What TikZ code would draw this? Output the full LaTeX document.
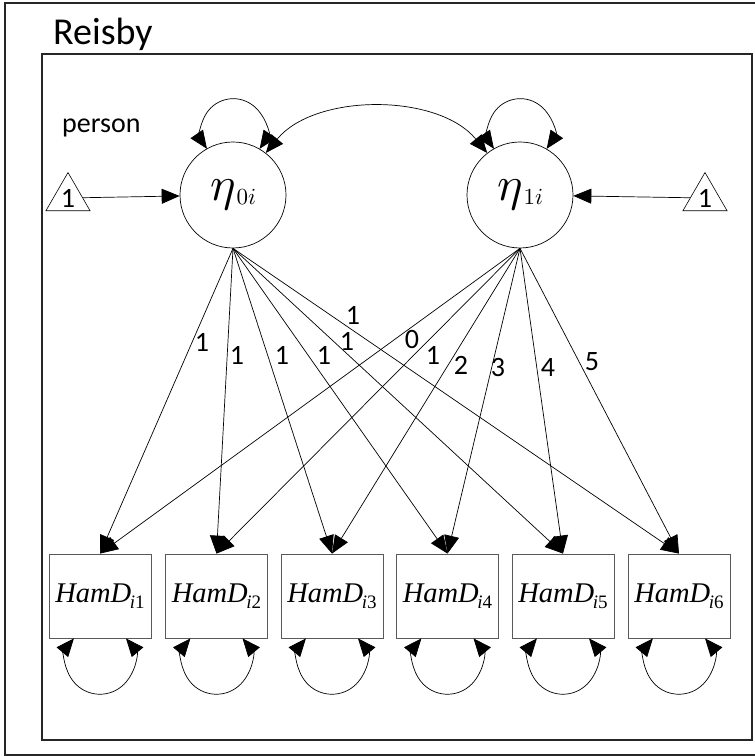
\documentclass[tikz,border=0pt]{standalone}
\usepackage{graphicx}
\usepackage[no-math]{fontspec}
\setmainfont{Liberation Serif}
\newfontfamily\calib{Carlito}
\usetikzlibrary{arrows.meta,shapes.geometric,calc}
\newcommand{\hamd}[1]{\fontsize{28.5}{28.5}\selectfont\textit{HamD}\kern-0.05em\raisebox{-6pt}{\fontsize{19}{19}\selectfont\textit{i}#1}}
\newcommand{\etasub}[1]{\scalebox{4.8}{$\eta$}\kern1pt\raisebox{-4pt}{\scalebox{2.3}{$#1i$}}}
\begin{document}
\begin{tikzpicture}[x=1pt,y=1pt,
  arr/.style={-{Triangle[length=18pt,width=15pt]}},
  darr/.style={{Triangle[length=18pt,width=15pt]}-{Triangle[length=18pt,width=15pt]}},
  latent/.style={circle,draw,line width=0.7pt,minimum size=106pt,inner sep=0pt},
  obs/.style={rectangle,draw=black!65,line width=0.8pt,minimum width=102pt,minimum height=84pt,inner sep=0pt},
  onebox/.style={regular polygon,regular polygon sides=3,draw,line width=0.6pt,minimum size=47.3pt,inner sep=0pt,font=\calib\fontsize{28}{28}\selectfont},
  lbl/.style={font=\calib\fontsize{28}{28}\selectfont,inner sep=0pt},
  framebox/.style={draw=black!85,line width=2pt},
  conn/.style={line width=0.7pt}
]
\clip (0,0) rectangle (755,756);
\draw[framebox] (5,1) rectangle (770,753);
\draw[framebox] (42,16) rectangle (752,702);
\node[anchor=base west,font=\calib\fontsize{38}{38}\selectfont,inner sep=0pt] (title) at (53,711) {Reisby};
\node[anchor=west,font=\calib\fontsize{28}{28}\selectfont,inner sep=0pt] (person) at (62,628) {person};

\node[latent] (e0) at (233,561) {\etasub{0}};
\node[latent] (e1) at (520,561) {\etasub{1}};

\node[onebox] (tL) at (68,558) {1};
\node[onebox] (tR) at (705,558) {1};
\draw[conn,arr] (tL) -- (e0);
\draw[conn,arr] (tR) -- (e1);

\foreach \i/\x in {1/100,2/216.5,3/332,4/447.5,5/563,6/679}
  \node[obs] (b\i) at (\x,160) {\hamd{\i}};

\foreach \i in {1,...,6} {
  \draw[conn,arr] (e0.south) -- (b\i.north);
  \draw[conn,arr] (e1.south) -- (b\i.north);
  \draw[conn,darr] ($(b\i.south)+(26,0)$) arc[start angle=40,end angle=-220,radius=34];
}

\draw[conn,darr] (e0.60) arc[start angle=-34.5,end angle=214.5,radius=32];
\draw[conn,darr] (e1.60) arc[start angle=-34.5,end angle=214.5,radius=32];
\draw[conn,darr] (e0.52) .. controls (315,663) and (438,663) .. (e1.128);

\node[lbl] (l01) at (202,414) {1};
\node[lbl] (l02) at (237,401) {1};
\node[lbl] (l03) at (282,401) {1};
\node[lbl] (l04) at (324,401) {1};
\node[lbl] (l05) at (347,415) {1};
\node[lbl] (l06) at (353,441) {1};
\node[lbl] (l11) at (412,416) {0};
\node[lbl] (l12) at (433,401) {1};
\node[lbl] (l13) at (461,391) {2};
\node[lbl] (l14) at (498,388) {3};
\node[lbl] (l15) at (548,388) {4};
\node[lbl] (l16) at (592,394) {5};
\end{tikzpicture}
\end{document}
